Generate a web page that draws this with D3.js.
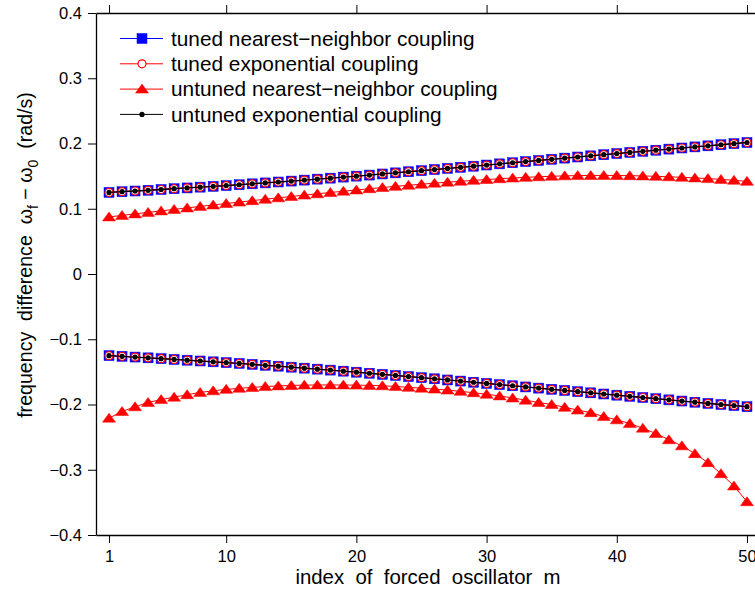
<!DOCTYPE html>
<html>
<head>
<meta charset="utf-8">
<script src="https://cdn.jsdelivr.net/npm/d3@7"></script>
<style>
  body { margin: 0; background: #fff; }
  svg { display: block; font-family: "Liberation Sans", Arial, Helvetica, sans-serif; }
</style>
</head>
<body>
<div id="chart"></div>
<script>
// oscillator index m = 1..50
var oscIndex = d3.range(1, 51)

// tuned couplings (nearest-neighbor and exponential lie on top of each other)
var tunedUpper = [
  0.1250, 0.1261, 0.1272, 0.1283, 0.1295, 0.1307, 0.1319, 0.1331, 0.1343, 0.1355,
  0.1368, 0.1382, 0.1396, 0.1410, 0.1424, 0.1439, 0.1454, 0.1469, 0.1485, 0.1500,
  0.1516, 0.1533, 0.1550, 0.1567, 0.1584, 0.1601, 0.1618, 0.1635, 0.1652, 0.1670,
  0.1688, 0.1705, 0.1723, 0.1740, 0.1758, 0.1776, 0.1793, 0.1811, 0.1828, 0.1846,
  0.1863, 0.1880, 0.1897, 0.1914, 0.1931, 0.1948, 0.1964, 0.1981, 0.1998, 0.2015
]
var tunedLower = [
  -0.1251, -0.1262, -0.1273, -0.1285, -0.1297, -0.1309, -0.1321, -0.1333, -0.1346, -0.1358,
  -0.1371, -0.1385, -0.1399, -0.1413, -0.1428, -0.1443, -0.1458, -0.1473, -0.1489, -0.1505,
  -0.1521, -0.1538, -0.1555, -0.1572, -0.1589, -0.1606, -0.1624, -0.1641, -0.1659, -0.1677,
  -0.1695, -0.1713, -0.1731, -0.1749, -0.1767, -0.1785, -0.1803, -0.1821, -0.1839, -0.1857,
  -0.1875, -0.1893, -0.1911, -0.1929, -0.1947, -0.1965, -0.1983, -0.2000, -0.2017, -0.2034
]

// untuned nearest-neighbor coupling
var untunedNNUpper = [
  0.0875, 0.0898, 0.0921, 0.0944, 0.0967, 0.0990, 0.1013, 0.1036, 0.1058, 0.1080,
  0.1102, 0.1124, 0.1146, 0.1167, 0.1188, 0.1209, 0.1229, 0.1249, 0.1269, 0.1288,
  0.1307, 0.1325, 0.1343, 0.1360, 0.1376, 0.1392, 0.1407, 0.1421, 0.1435, 0.1448,
  0.1460, 0.1471, 0.1481, 0.1490, 0.1498, 0.1504, 0.1508, 0.1510, 0.1511, 0.1510,
  0.1507, 0.1503, 0.1497, 0.1490, 0.1482, 0.1473, 0.1462, 0.1450, 0.1436, 0.1420
]
var untunedNNLower = [
  -0.2209, -0.2107, -0.2035, -0.1969, -0.1925, -0.1888, -0.1850, -0.1815, -0.1790, -0.1768,
  -0.1752, -0.1738, -0.1725, -0.1715, -0.1708, -0.1703, -0.1701, -0.1700, -0.1701, -0.1703,
  -0.1707, -0.1713, -0.1723, -0.1737, -0.1750, -0.1764, -0.1779, -0.1798, -0.1820, -0.1843,
  -0.1868, -0.1900, -0.1933, -0.1970, -0.2000, -0.2043, -0.2085, -0.2125, -0.2185, -0.2235,
  -0.2292, -0.2363, -0.2445, -0.2540, -0.2634, -0.2753, -0.2891, -0.3060, -0.3249, -0.3490
]

// untuned exponential coupling coincides with the tuned curves
var untunedExpUpper = tunedUpper
var untunedExpLower = tunedLower

var xTicks = [1, 10, 20, 30, 40, 50]
var yTicks = [-0.4, -0.3, -0.2, -0.1, 0, 0.1, 0.2, 0.3, 0.4]

var legendLabels = [
  'tuned nearest\u2212neighbor coupling',
  'tuned exponential coupling',
  'untuned nearest\u2212neighbor coupling',
  'untuned exponential coupling'
]

// SVG area
var svgWidth = 755
var svgHeight = 592

var margin = { top: 13, right: -5, bottom: 57, left: 96 }
var width = svgWidth - margin.left - margin.right
var height = svgHeight - margin.top - margin.bottom

var svg = d3.select('#chart')
  .append('svg')
  .attr('width', svgWidth)
  .attr('height', svgHeight)

var chartGroup = svg.append('g')
  .attr('transform', `translate(${margin.left}, ${margin.top})`)

var xScale = d3.scaleLinear().domain([0, 51]).range([0, width])
var yScale = d3.scaleLinear().domain([-0.4, 0.4]).range([height, 0])

var fmtY = function (d) { return d === 0 ? '0' : d3.format('.1f')(d).replace('-', '\u2212') }

// axes with outward ticks, box on
var bottomAxis = d3.axisBottom(xScale).tickValues(xTicks).tickSize(8).tickSizeOuter(0).tickPadding(7)
var leftAxis = d3.axisLeft(yScale).tickValues(yTicks).tickSize(8).tickSizeOuter(0).tickPadding(6).tickFormat(fmtY)
var topAxis = d3.axisTop(xScale).tickValues(xTicks).tickSize(8).tickSizeOuter(0).tickFormat('')
var rightAxis = d3.axisRight(yScale).tickValues(yTicks).tickSize(8).tickSizeOuter(0).tickFormat('')

function styleAxis (g) {
  g.selectAll('path').attr('stroke', '#000').attr('stroke-width', 1.3)
  g.selectAll('line').attr('stroke', '#000').attr('stroke-width', 1)
  g.selectAll('text').attr('fill', '#000').style('font-size', '16.5px').style('font-family', null)
}

chartGroup.append('g').attr('transform', `translate(0, ${height})`).call(bottomAxis).call(styleAxis)
chartGroup.append('g').call(leftAxis).call(styleAxis)
chartGroup.append('g').call(topAxis).call(styleAxis)
chartGroup.append('g').attr('transform', `translate(${width}, 0)`).call(rightAxis).call(styleAxis)

// plot helpers
var line = d3.line()
  .x(function (d) { return xScale(d[0]) })
  .y(function (d) { return yScale(d[1]) })

function pairs (values) {
  return oscIndex.map(function (m, i) { return [m, values[i]] })
}

var plotGroup = chartGroup.append('g')

function drawSeries (values, color, markerFn, lineWidth) {
  var pts = pairs(values)
  plotGroup.append('path')
    .datum(pts)
    .attr('d', line)
    .attr('fill', 'none')
    .attr('stroke', color)
    .attr('stroke-width', lineWidth)
  var g = plotGroup.append('g')
  pts.forEach(function (p) {
    markerFn(g, xScale(p[0]), yScale(p[1]))
  })
}

function squareMarker (g, x, y) {
  g.append('rect')
    .attr('x', x - 5).attr('y', y - 5)
    .attr('width', 10).attr('height', 10)
    .attr('fill', '#0000ff').attr('stroke', '#0000ff').attr('stroke-width', 0.5)
}
function circleMarker (g, x, y) {
  g.append('circle')
    .attr('cx', x).attr('cy', y).attr('r', 4)
    .attr('fill', '#fff').attr('stroke', '#ff0000').attr('stroke-width', 1.2)
}
function triangleMarker (g, x, y) {
  g.append('path')
    .attr('d', `M${x},${y - 5}L${x + 6.5},${y + 4}L${x - 6.5},${y + 4}Z`)
    .attr('fill', '#ff0000').attr('stroke', '#ff0000').attr('stroke-width', 0.5)
}
function dotMarker (g, x, y) {
  g.append('circle')
    .attr('cx', x).attr('cy', y).attr('r', 2.6)
    .attr('fill', '#000')
}

var series = [
  { upper: tunedUpper, lower: tunedLower, color: '#0000ff', marker: squareMarker, lw: 1 },
  { upper: tunedUpper, lower: tunedLower, color: '#ff0000', marker: circleMarker, lw: 1 },
  { upper: untunedNNUpper, lower: untunedNNLower, color: '#ff0000', marker: triangleMarker, lw: 1 },
  { upper: untunedExpUpper, lower: untunedExpLower, color: '#000000', marker: dotMarker, lw: 1.3 }
]

series.forEach(function (s) {
  drawSeries(s.upper, s.color, s.marker, s.lw)
  drawSeries(s.lower, s.color, s.marker, s.lw)
})

// legend (no box)
var legend = svg.append('g')
legendLabels.forEach(function (label, i) {
  var y = 38.5 + i * 25.3
  var s = series[i]
  legend.append('line')
    .attr('x1', 120).attr('x2', 163)
    .attr('y1', y).attr('y2', y)
    .attr('stroke', s.color).attr('stroke-width', 1)
  s.marker(legend, 142, y)
  legend.append('text')
    .attr('x', 171).attr('y', y)
    .attr('dy', '0.35em')
    .style('font-size', '20.8px')
    .text(label)
})

// axis labels
svg.append('text')
  .attr('x', margin.left + width / 2)
  .attr('y', 584)
  .attr('text-anchor', 'middle')
  .style('font-size', '20.4px')
  .attr('xml:space', 'preserve')
  .text('index  of  forced  oscillator  m')

var yLabel = svg.append('text')
  .attr('transform', 'translate(32, 255) rotate(-90)')
  .attr('text-anchor', 'middle')
  .style('font-size', '19.6px')
  .attr('xml:space', 'preserve')
yLabel.append('tspan').text('frequency  difference  \u03c9')
yLabel.append('tspan').attr('dy', 6).style('font-size', '14px').text('f')
yLabel.append('tspan').attr('dy', -6).text(' \u2212 \u03c9')
yLabel.append('tspan').attr('dy', 6).style('font-size', '14px').text('0')
yLabel.append('tspan').attr('dy', -6).text('  (rad/s)')
</script>
</body>
</html>
